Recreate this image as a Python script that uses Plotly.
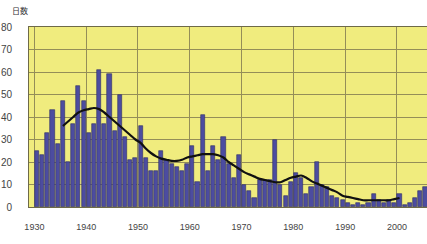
import plotly.graph_objects as go

years = list(range(1930, 2006))
days = [25, 23, 33, 43, 28, 47, 20, 37, 54, 47,
        33, 37, 61, 37, 59, 34, 50, 31, 21, 22,
        36, 22, 16, 16, 25, 21, 19, 18, 16, 19,
        27, 11, 41, 16, 27, 21, 31, 19, 13, 23,
        10, 7, 4, 12, 12, 12, 30, 10, 5, 11,
        15, 13, 6, 9, 20, 10, 9, 5, 4, 3,
        2, 1, 2, 1, 2, 6, 3, 2, 3, 2,
        6, 1, 2, 4, 7, 9]

trend_years = list(range(1935, 2001))
trend = [36, 38, 40, 42, 43, 43.5, 44, 43.5, 42, 40,
         38, 36, 34, 32, 30, 28.5, 26, 24, 22.5, 21.5,
         21, 20.5, 20.5, 21, 22, 22.5, 23, 23.5, 23.5, 23.5,
         23, 22, 20, 18.5, 17, 15.5, 14.5, 13.5, 12.5, 12,
         11.5, 11, 11, 12, 13, 13.5, 14, 13, 11.5, 10.5,
         9.5, 8.5, 7.5, 6.5, 5, 4.5, 4, 3.5, 3, 3,
         3, 3, 3, 3, 3.5, 4]

decades = [1930, 1940, 1950, 1960, 1970, 1980, 1990, 2000]
y_ticks = [0, 10, 20, 30, 40, 50, 60, 70, 80]

fig = go.Figure()
fig.add_trace(go.Bar(
    x=years, y=days, width=0.8,
    marker=dict(color="#4c4ca0", line=dict(color="#2e2e66", width=0.6)),
    showlegend=False, hoverinfo="skip",
))
fig.add_trace(go.Scatter(
    x=trend_years, y=trend, mode="lines",
    line=dict(color="#111111", width=2.2, shape="spline"),
    showlegend=False, hoverinfo="skip",
))

grid = "#948e58"
fig.update_layout(
    width=427, height=244,
    margin=dict(l=29, r=0, t=27, b=37),
    paper_bgcolor="white",
    plot_bgcolor="#f0ec7e",
    font=dict(family="Liberation Sans", size=9, color="#444444"),
    bargap=0,
    xaxis=dict(
        range=[1928.46, 2005.3],
        tickvals=[d - 0.5 for d in decades],
        ticktext=[str(d) for d in decades],
        showgrid=True, gridcolor=grid, gridwidth=1,
        showline=True, linecolor="#6e6a48", linewidth=1, mirror=True,
        ticks="", ticklabelstandoff=11,
        zeroline=False,
    ),
    yaxis=dict(
        range=[0, 80],
        tickvals=y_ticks,
        showgrid=True, gridcolor=grid, gridwidth=1,
        showline=True, linecolor="#6e6a48", linewidth=1, mirror=True,
        ticks="", ticklabelstandoff=14,
        zeroline=False,
        tickfont=dict(size=10),
    ),
    annotations=[dict(
        text="日数", xref="paper", yref="paper",
        x=-0.023, y=1.05, xanchor="center", yanchor="bottom",
        showarrow=False, font=dict(size=8, color="#333333",
                                   family="Noto Sans CJK JP"),
    )],
)

fig.write_html(
    "out.html",
    config={"displayModeBar": False},
    post_script="document.body.style.margin='0';document.body.style.overflow='hidden';",
)
